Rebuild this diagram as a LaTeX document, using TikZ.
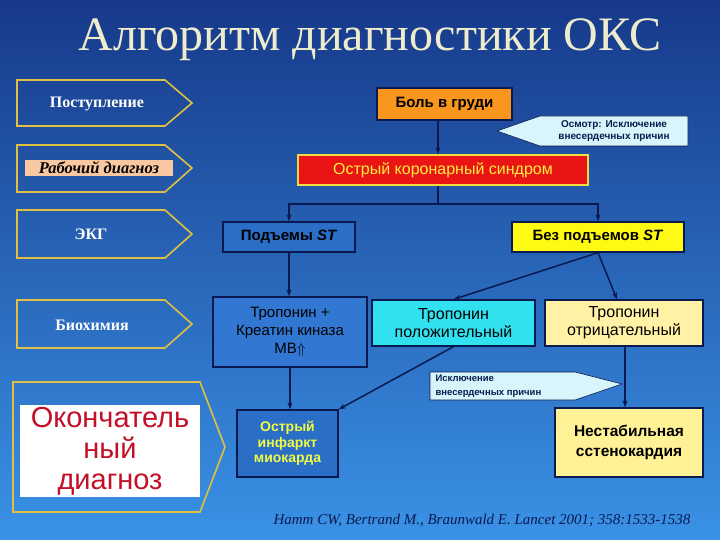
\documentclass[tikz,border=0pt]{standalone}
\usepackage{fontspec}
\setmainfont{Liberation Serif}
\newfontfamily\sans{Liberation Sans}
\usetikzlibrary{arrows.meta}
\definecolor{bgtop}{HTML}{17398A}
\definecolor{bgbot}{HTML}{3A92E6}
\definecolor{gold}{HTML}{E0C040}
\definecolor{navy}{HTML}{0A1A50}
\tikzset{
  stagebox/.style={draw=gold,line width=1.6pt},
  stagetxt/.style={font=\bfseries\fontsize{16}{18}\selectfont,text=white},
  fbox/.style={draw=navy,line width=1.3pt,align=center,inner sep=0pt,font=\sans\bfseries\fontsize{15}{17}\selectfont},
  con/.style={draw=navy,line width=1.5pt},
  arr/.style={con,-{Stealth[length=7pt,width=5pt]}},
  calltxt/.style={font=\sans\bfseries\fontsize{10}{12}\selectfont,text=navy,align=left}
}
\begin{document}
\begin{tikzpicture}[x=1pt,y=-1pt]
\shade[top color=bgtop,bottom color=bgbot] (0,0) rectangle (720,540);
\useasboundingbox (0,0) rectangle (720,540);
\node[font=\fontsize{48}{52}\selectfont,text={rgb,255:red,238;green,236;blue,205}] (title) at (370,40) {Алгоритм диагностики ОКС};
% stages
\draw[stagebox] (17,80) -- (165,80) -- (192,103) -- (165,126) -- (17,126) -- cycle;
\node[stagetxt] (s1) at (97,104) {Поступление};
\draw[stagebox] (17,145) -- (165,145) -- (192,168) -- (165,192) -- (17,192) -- cycle;
\node[fill={rgb,255:red,250;green,200;blue,160},inner sep=1.5pt,minimum width=148pt,font=\bfseries\itshape\fontsize{16.5}{18}\selectfont] (s2) at (99,168) {Рабочий диагноз};
\draw[stagebox] (17,210) -- (165,210) -- (192,234) -- (165,258) -- (17,258) -- cycle;
\node[stagetxt] (s3) at (91,234) {ЭКГ};
\draw[stagebox] (17,300) -- (165,300) -- (192,324) -- (165,348) -- (17,348) -- cycle;
\node[stagetxt] (s4) at (92,325) {Биохимия};
\draw[stagebox] (13,382) -- (200,382) -- (225,447) -- (200,512) -- (13,512) -- cycle;
\node[fill=white,minimum width=180pt,minimum height=92pt,align=center,inner sep=0pt,text={rgb,255:red,195;green,16;blue,40},font=\sans\fontsize{29}{31}\selectfont] (s5) at (110,451) {Окончатель\\ный\\диагноз};
% flow boxes
\node[fbox,fill={rgb,255:red,248;green,150;blue,30},minimum width=135pt,minimum height=32pt] (pain) at (444.5,104) {Боль в груди};
\node[fbox,draw={rgb,255:red,240;green,220;blue,60},fill={rgb,255:red,235;green,20;blue,20},text={rgb,255:red,250;green,240;blue,60},font=\sans\fontsize{16}{18}\selectfont,minimum width=290pt,minimum height=30pt] (acs) at (443,170) {Острый коронарный синдром};
\node[fbox,fill={rgb,255:red,42;green,110;blue,200},minimum width=132pt,minimum height=30pt] (stup) at (289,237) {Подъемы \textit{ST}};
\node[fbox,fill={rgb,255:red,255;green,250;blue,20},minimum width=172pt,minimum height=30pt] (nost) at (598,237) {Без подъемов \textit{ST}};
\node[fbox,fill={rgb,255:red,50;green,120;blue,210},font=\sans\fontsize{15}{18}\selectfont,minimum width=154pt,minimum height=70pt] (tck) at (290,332) {Тропонин +\\Креатин киназа\\МВ$\Uparrow$};
\node[fbox,fill={rgb,255:red,50;green,225;blue,240},font=\sans\fontsize{16}{18}\selectfont,minimum width=163pt,minimum height=46pt] (tpos) at (453.5,323) {Тропонин\\положительный};
\node[fbox,fill={rgb,255:red,255;green,242;blue,165},font=\sans\fontsize{16}{18}\selectfont,minimum width=158pt,minimum height=46pt] (tneg) at (624,323) {Тропонин\\отрицательный};
\node[fbox,fill={rgb,255:red,42;green,110;blue,200},text={rgb,255:red,240;green,250;blue,70},font=\sans\bfseries\fontsize{14}{15.5}\selectfont,minimum width=101pt,minimum height=67pt] (ami) at (287.5,443.5) {Острый\\инфаркт\\миокарда};
\node[fbox,fill={rgb,255:red,255;green,242;blue,150},font=\sans\bfseries\fontsize{15.5}{20}\selectfont,minimum width=148pt,minimum height=69pt] (ua) at (629,442.5) {Нестабильная\\сстенокардия};
% callouts
\draw[fill={rgb,255:red,215;green,245;blue,250},draw=navy,line width=0.6pt] (497,131) -- (540,116) -- (688,116) -- (688,146) -- (540,146) -- cycle;
\node[calltxt,align=center] (c1) at (614,131) {Осмотр: Исключение\\внесердечных причин};
\draw[fill={rgb,255:red,215;green,245;blue,250},draw=navy,line width=0.6pt] (430,372) -- (575,372) -- (622,384) -- (575,400) -- (430,400) -- cycle;
\node[calltxt,font=\sans\bfseries\fontsize{9.5}{14}\selectfont,anchor=west] (c2) at (432,386) {Исключение\\внесердечных причин};
% connectors
\draw[arr] (pain.south -| 438,0) -- (acs.north -| 438,0);
\coordinate (j) at (438,204);
\draw[con] (acs.south -| j) -- (j);
\draw[arr] (j) -| (stup.north);
\draw[arr] (j) -| (nost.north);
\draw[arr] (stup.south) -- (tck.north -| stup.south);
\draw[arr] (nost.south) -- (tpos.north);
\draw[arr] (nost.south) -- (tneg.north -| 617,0);
\draw[arr] (tck.south) -- (ami.north -| tck.south);
\draw[arr] (tpos.south) -- (ami.north east);
\draw[arr] (tneg.south -| 625,0) -- (ua.north -| 625,0);
\node[font=\itshape\fontsize{15}{17}\selectfont,text=navy] (ref) at (482,520) {Hamm CW, Bertrand M., Braunwald E. Lancet 2001; 358:1533-1538};
\end{tikzpicture}
\end{document}
